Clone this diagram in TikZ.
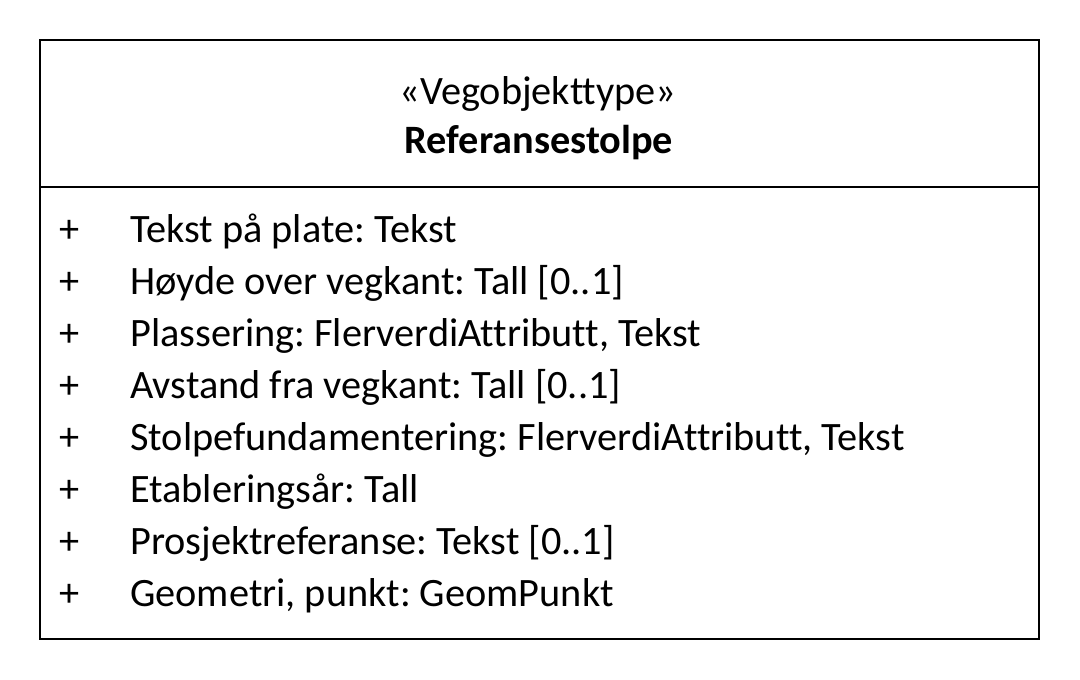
\documentclass[tikz,border=0pt]{standalone}
\usepackage{fontspec}
\setmainfont[Ligatures={NoCommon}]{Carlito}
\frenchspacing
\begin{document}
\begin{tikzpicture}[x=1pt,y=-1pt,
  boxline/.style={draw=black,line width=1.2pt},
  attr/.style={anchor=base west,inner sep=0pt,font=\fontsize{40.3}{48}\selectfont},
  head/.style={anchor=base,inner sep=0pt,font=\fontsize{40.3}{48}\selectfont}]
\useasboundingbox (0,0) rectangle (1080,680);
% class frame and compartment divider
\draw[boxline] (40,40) rectangle (1039,639);
\draw[boxline] (40,187) -- (1039,187);
% header
\node[head] (stereo) at (538,104) {«Vegobjekttype»};
\node[head,font=\fontsize{40.3}{48}\selectfont\bfseries] (name) at (539,153) {Referansestolpe};
% attributes
\foreach \i/\t in {0/{Tekst på plate: Tekst},
                   1/{Høyde over vegkant: Tall [0..1]},
                   2/{Plassering: FlerverdiAttributt, Tekst},
                   3/{Avstand fra vegkant: Tall [0..1]},
                   4/{Stolpefundamentering: FlerverdiAttributt, Tekst},
                   5/{Etableringsår: Tall},
                   6/{Prosjektreferanse: Tekst [0..1]},
                   7/{Geometri, punkt: GeomPunkt}}{
  \node[attr] (vis\i) at (59,242+52*\i) {+};
  \node[attr] (attr\i) at (130,242+52*\i) {\t};
}
\end{tikzpicture}
\end{document}
